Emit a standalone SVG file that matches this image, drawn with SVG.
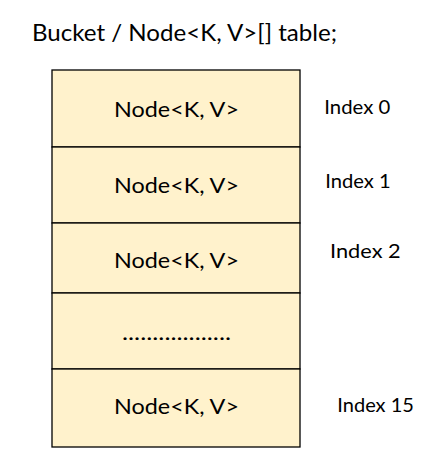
<svg xmlns="http://www.w3.org/2000/svg" width="432" height="476" viewBox="0 0 432 476">
<style>
.cell{fill:#FFF2CC;stroke:#000;stroke-width:1.3}
.t{font-family:Lato,"Open Sans","Liberation Sans",sans-serif;fill:#000}
.n{font-size:20.5px}
.i{font-size:20px}
</style>
<rect width="432" height="476" fill="#fff"/>
<text class="t" x="32" y="41" font-size="24" textLength="305" lengthAdjust="spacingAndGlyphs">Bucket / Node&lt;K, V&gt;[] table;</text>
<g id="cell0"><rect class="cell" x="52" y="70" width="248" height="77"/><text class="t n" x="114" y="117" textLength="125" lengthAdjust="spacingAndGlyphs">Node&lt;K, V&gt;</text></g>
<g id="cell1"><rect class="cell" x="52" y="147" width="248" height="76"/><text class="t n" x="114" y="192.7" textLength="125" lengthAdjust="spacingAndGlyphs">Node&lt;K, V&gt;</text></g>
<g id="cell2"><rect class="cell" x="52" y="223" width="248" height="70"/><text class="t n" x="114" y="268.3" textLength="125" lengthAdjust="spacingAndGlyphs">Node&lt;K, V&gt;</text></g>
<g id="cellDots"><rect class="cell" x="52" y="293" width="248" height="76"/><text class="t n" x="122" y="339.7" textLength="109" lengthAdjust="spacingAndGlyphs">..................</text></g>
<g id="cell15"><rect class="cell" x="52" y="369" width="248" height="78"/><text class="t n" x="114" y="414" textLength="125" lengthAdjust="spacingAndGlyphs">Node&lt;K, V&gt;</text></g>
<g id="labels">
<text class="t i" x="324.3" y="113.7" textLength="66" lengthAdjust="spacingAndGlyphs">Index 0</text>
<text class="t i" x="325.3" y="187.7" textLength="65.4" lengthAdjust="spacingAndGlyphs">Index 1</text>
<text class="t i" x="330" y="257.7" textLength="70.7" lengthAdjust="spacingAndGlyphs">Index  2</text>
<text class="t i" x="337.3" y="411.7" textLength="76.7" lengthAdjust="spacingAndGlyphs">Index 15</text>
</g>
<g id="connectors"/>
</svg>
